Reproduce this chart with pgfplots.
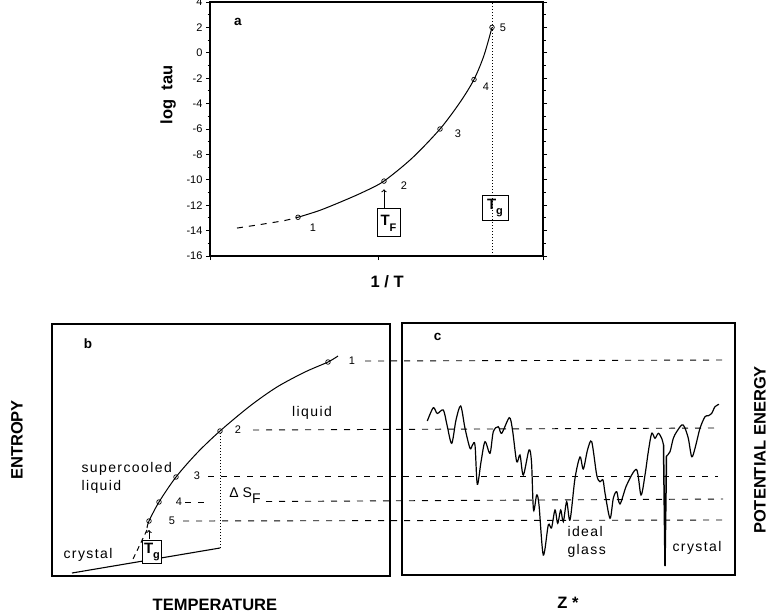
\documentclass[border=0pt]{standalone}
\usepackage{fontspec}
\setmainfont{Liberation Sans}
\newfontfamily\spaced[LetterSpace=10]{Liberation Sans}
\usepackage{pgfplots}
\pgfplotsset{compat=1.18}

\newcommand{\lab}{\bfseries\fontsize{16.5}{18}\selectfont}
\newcommand{\numsz}{\fontsize{11}{13}\selectfont}
\newcommand{\txtsz}{\spaced\fontsize{14}{18}\selectfont}
\newcommand{\boxsz}{\bfseries\fontsize{15}{17}\selectfont}

\pgfplotsset{
  panel/.style={scale only axis, clip=false,
    axis line style={line width=1.3pt},
    /pgf/number format/assume math mode=true},
  open/.style={only marks, mark=o, mark size=2.3pt,
    mark options={fill=white, line width=0.7pt, black}},
  lvl/.style={black, line width=0.9pt, dash pattern=on 6pt off 7pt},
}

\begin{document}
\begin{tikzpicture}
\useasboundingbox (0pt,0pt) rectangle (772pt,-614pt);

% ---- panel a
\begin{axis}[panel,
  at={(210pt,-256pt)}, anchor=south west,
  width=333pt, height=254pt,
  xmin=210, xmax=543, ymin=-16, ymax=4,
  ytick={-16,-14,...,4}, minor ytick={-15,-13,...,3},
  xtick={210,378,543}, xticklabels={},
  xtick pos=left, ytick pos=both,
  tick align=outside,
  major tick length=4pt, minor tick length=2.5pt,
  every tick/.append style={black, line width=0.9pt},
  yticklabel style={font=\numsz},
  xlabel={1 / T}, ylabel={log\hspace{9pt}tau},
  xlabel style={font=\lab, at={(axis description cs:0.532,-0.102)}, anchor=center},
  ylabel style={font=\lab, at={(axis description cs:-0.126,0.634)}, anchor=center},
]
\addplot[black, line width=1pt, dash pattern=on 6pt off 6pt, smooth]
  coordinates {(237,-13.8) (262,-13.5) (285,-13.2) (298,-12.95)};
\addplot[black, line width=1pt, smooth]
  coordinates {(298,-12.95) (320,-12.4) (345,-11.6) (365,-10.9) (384,-10.1)
               (412,-8.3) (440,-6.0) (460,-3.9) (474,-2.1) (484,-0.2) (492,2.0)};
\addplot[open] coordinates {(298,-12.95) (384,-10.1) (440,-6.0) (474,-2.1) (492,2.0)};
\addplot[black, line width=1pt, dash pattern=on 1.5pt off 1.5pt]
  coordinates {(492,-16) (492,4)};
\addplot[black, line width=1pt, ->] coordinates {(384,-12.3) (384,-10.75)};
\node[font=\bfseries\fontsize{13.5}{15}\selectfont] at (axis cs:238,2.4) {a};
\node[font=\numsz] at (axis cs:313,-13.8) {1};
\node[font=\numsz] at (axis cs:404,-10.5) {2};
\node[font=\numsz] at (axis cs:458,-6.4) {3};
\node[font=\numsz] at (axis cs:486,-2.7) {4};
\node[font=\numsz] at (axis cs:503,2.0) {5};
\node[draw, line width=1pt, minimum width=23pt, minimum height=28pt, inner sep=0pt]
  at (axis cs:388.5,-13.4) {\boxsz T\raisebox{-6pt}{\fontsize{11}{12}\selectfont F}};
\node[draw, line width=1pt, minimum width=26pt, minimum height=25pt, inner sep=0pt]
  at (axis cs:495,-12.24) {\boxsz T\raisebox{-5pt}{\fontsize{11}{12}\selectfont g}};
\end{axis}

% ---- panel b
\begin{axis}[panel,
  at={(52pt,-576pt)}, anchor=south west,
  width=338pt, height=252pt,
  xmin=52, xmax=390, ymin=-576, ymax=-324,
  xtick=\empty, ytick=\empty,
  xlabel={TEMPERATURE}, ylabel={ENTROPY},
  xlabel style={font=\lab, at={(axis description cs:0.482,-0.115)}, anchor=center},
  ylabel style={font=\lab, at={(axis description cs:-0.1036,0.54)}, anchor=center},
]
% levels 1-5, running on into panel c
\addplot[lvl] coordinates {(365,-361) (728,-360)};
\addplot[lvl] coordinates {(253,-430) (715,-428)};
\addplot[lvl] coordinates {(208,-476) (718,-476)};
\addplot[lvl] coordinates {(185,-502) (207,-502)};
\addplot[lvl] coordinates {(266,-501.5) (723,-499)};
\addplot[lvl] coordinates {(183,-521) (725,-520)};
\addplot[black, line width=1pt, smooth]
  coordinates {(147,-528) (149,-521) (159,-502) (176,-477) (197,-453) (220,-431)
               (250,-406) (277,-387) (305,-372) (328,-362) (338,-356)};
\addplot[black, line width=1pt, dash pattern=on 5pt off 4pt]
  coordinates {(147,-530) (133,-559)};
\addplot[black, line width=1.1pt] coordinates {(72,-573) (220,-548)};
\addplot[black, line width=1pt, dash pattern=on 1.5pt off 1.5pt]
  coordinates {(220,-548) (220,-431)};
\addplot[open] coordinates {(149,-521) (159,-502) (176,-477) (220,-431) (328,-362)};
\node[draw, fill=white, line width=1pt, minimum width=19pt, minimum height=23pt, inner sep=0pt]
  at (axis cs:152,-552) {\boxsz T\raisebox{-5pt}{\fontsize{11}{12}\selectfont g}};
\addplot[black, line width=1pt, ->] coordinates {(149,-539) (149,-530)};
\node[font=\bfseries\fontsize{13.5}{15}\selectfont] at (axis cs:88,-344) {b};
\node[font=\numsz] at (axis cs:352,-361) {1};
\node[font=\numsz] at (axis cs:238,-430) {2};
\node[font=\numsz] at (axis cs:197,-476) {3};
\node[font=\numsz] at (axis cs:179,-502) {4};
\node[font=\numsz] at (axis cs:172,-521) {5};
\node[font=\txtsz] at (axis cs:312,-413) {liquid};
\node[font=\txtsz, anchor=west, align=left] at (axis cs:78,-478) {supercooled\\liquid};
\node[font=\txtsz] at (axis cs:88,-555) {crystal};
\node[font=\fontsize{14}{16}\selectfont] at (axis cs:245,-496)
  {Δ S\raisebox{-6pt}{F}};
\end{axis}

% ---- panel c
\begin{axis}[panel,
  at={(402pt,-575pt)}, anchor=south west,
  width=333pt, height=252pt,
  xmin=402, xmax=735, ymin=-575, ymax=-323,
  xtick=\empty, ytick=\empty,
  xlabel={Z *}, ylabel={POTENTIAL ENERGY},
  xlabel style={font=\lab, at={(axis description cs:0.4985,-0.111)}, anchor=center},
  ylabel style={font=\lab, at={(axis description cs:1.075,0.496)}, anchor=center},
]
\addplot[black, line width=1.2pt, smooth, tension=0.5] coordinates {
  (427.3,-421) (433.3,-407.7) (437.3,-413.5) (443.3,-410) (447,-425) (451.7,-443.3)
  (456,-420) (460.7,-406) (465,-428.3) (470,-448.3) (472.5,-445) (475,-445)
  (477.3,-484.3) (481,-462) (485,-441.7) (490,-453.3) (493.3,-431.7) (498.3,-426.7)
  (501.7,-433.3) (509.3,-417.7) (512.5,-430) (516.7,-461.7) (520,-455) (523.3,-475)
  (529,-450) (531.5,-462) (533.5,-510) (536.7,-495) (539,-505) (543.3,-555)
  (548.3,-525) (551.5,-528) (555,-510) (557.7,-523.3) (560.7,-510) (563.3,-521.7)
  (566.7,-501.7) (570,-520) (575,-478.3) (580,-457) (583.3,-469) (587.5,-450)
  (591.7,-441.7) (596.7,-475) (600,-481.7) (603,-480) (605,-493) (610,-518.3)
  (613.3,-498.3) (616.7,-491.7) (620,-504) (626.7,-485) (636.5,-469.5) (641,-495)
  (645,-475) (648.3,-451.7) (651.7,-433.3) (655,-438.3) (658.3,-433.3) (661.7,-438.3)
  (663.5,-445)};
\addplot[black, line width=1.5pt] coordinates {(663.5,-445) (665,-566) (666.5,-456)};
\addplot[black, line width=1.2pt, smooth, tension=0.5] coordinates {
  (666.5,-456) (670,-451.7) (673.3,-438.3) (676.7,-431.7) (681.7,-425) (684.5,-427)
  (688.3,-438.3) (691.7,-456.7) (695,-448.3) (700,-428.3) (705,-416.7) (708.3,-415.7)
  (711.7,-413.3) (715,-406.7) (719,-404.3)};
\node[font=\bfseries\fontsize{13.5}{15}\selectfont] at (axis cs:437.7,-336.7) {c};
\node[font=\txtsz, anchor=west, align=left] at (axis cs:564,-542) {ideal\\glass};
\node[font=\txtsz] at (axis cs:697,-548) {crystal};
\end{axis}
\end{tikzpicture}
\end{document}
